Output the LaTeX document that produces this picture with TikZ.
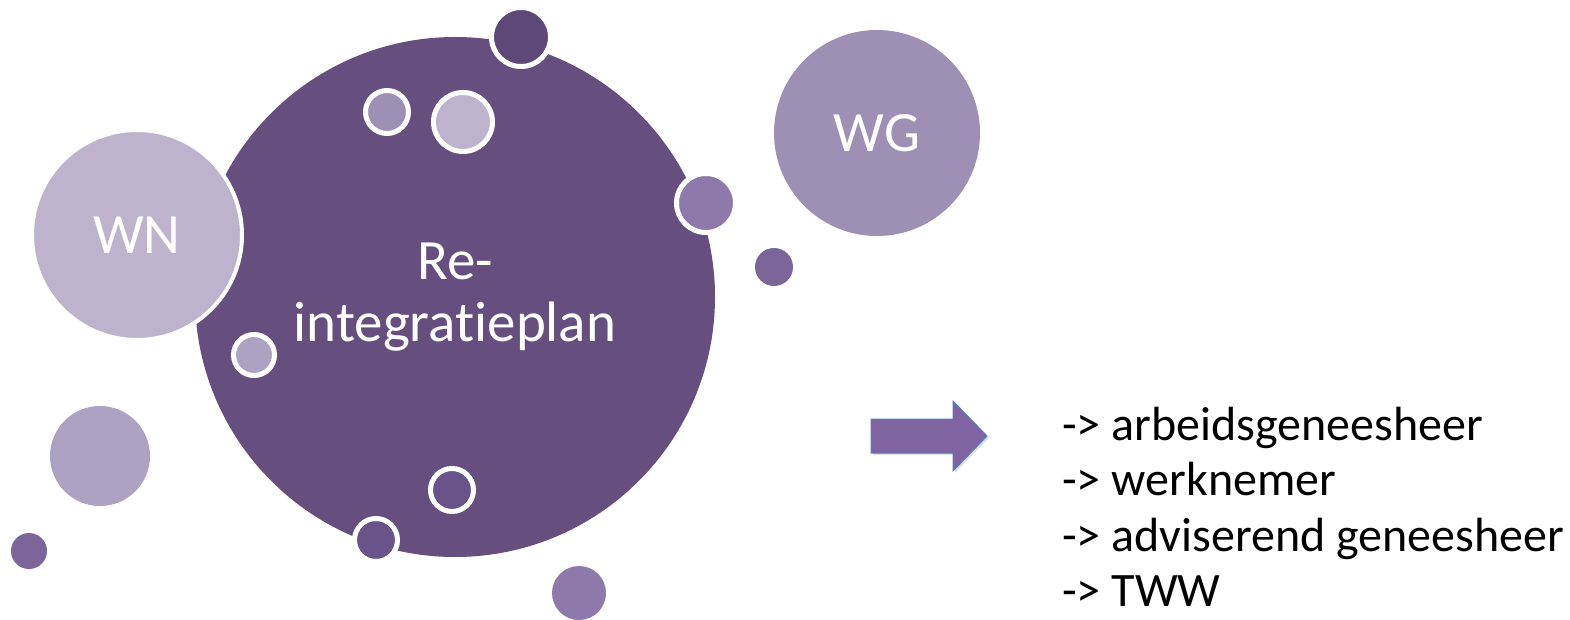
\documentclass[tikz,border=0pt]{standalone}
\usepackage{fontspec}
\setmainfont{Carlito}[Ligatures={TeX,NoCommon}]
\usetikzlibrary{shadows}
\definecolor{plan}{HTML}{664F7F}
\definecolor{licht}{HTML}{BDB3CC}
\definecolor{halflicht}{HTML}{ADA2C2}
\definecolor{grijspaars}{HTML}{9E8FB5}
\definecolor{midden}{HTML}{8E7AAA}
\definecolor{paars}{HTML}{7B6599}
\definecolor{donker}{HTML}{5E4877}
\definecolor{ring}{HTML}{6A5388}
\definecolor{pijl}{HTML}{8064A2}
\definecolor{pijlrand}{HTML}{4F81BD}
\begin{document}
\begin{tikzpicture}[x=1pt, y=-1pt]
	\tikzset{bol/.style={circle, inner sep=0pt, text=white, font=\fontsize{57}{62}\selectfont},
	bel/.style={circle, inner sep=0pt, draw=white, line width=5pt},
	stip/.style={circle, inner sep=0pt},
	lijst/.style={anchor=base west, inner sep=0pt, font=\fontsize{48}{58}\selectfont}};
	\useasboundingbox (0,0) rectangle (1570,620);

	\node[bol, fill=plan, minimum size=520pt, align=center] (plan) at (455,297) {Re-\\integratieplan};
	\node[bol, fill=licht, draw=white, line width=4pt, minimum size=210pt] (WN) at (137,235) {WN};
	\node[bol, fill=grijspaars, minimum size=206pt] (WG) at (877,133) {WG};

	% bellen met witte rand
	\foreach \i/\x/\y/\d/\kleur in {1/521/37/59/donker, 2/387/112/43/grijspaars, 3/463/122/59/licht,
		4/706/203/59/midden, 5/254/355/41/halflicht, 6/452/490/43/ring, 7/376/540/43/ring} {
		\node[bel, fill=\kleur, minimum size=\d pt] (b\i) at (\x,\y) {};
	}
	% losse stippen
	\foreach \i/\x/\y/\d/\kleur in {1/774/267/38/paars, 2/100/456/100/halflicht, 3/29/551/36/paars, 4/579/593/54/midden} {
		\node[stip, fill=\kleur, minimum size=\d pt] (s\i) at (\x,\y) {};
	}

	\filldraw[fill=pijl, draw=pijlrand, line width=1pt, drop shadow={opacity=0.25, shadow xshift=2pt, shadow yshift=-2pt}]
		(871,419) -- (953,419) -- (953,401) -- (987,436) -- (953,471) -- (953,453) -- (871,453) -- cycle;

	\foreach \i/\t in {1/arbeidsgeneesheer, 2/werknemer, 3/adviserend geneesheer, 4/TWW} {
		\node[lijst] (l\i) at (1062, 384.5+55.5*\i) {-> \t};
	}
\end{tikzpicture}
\end{document}
